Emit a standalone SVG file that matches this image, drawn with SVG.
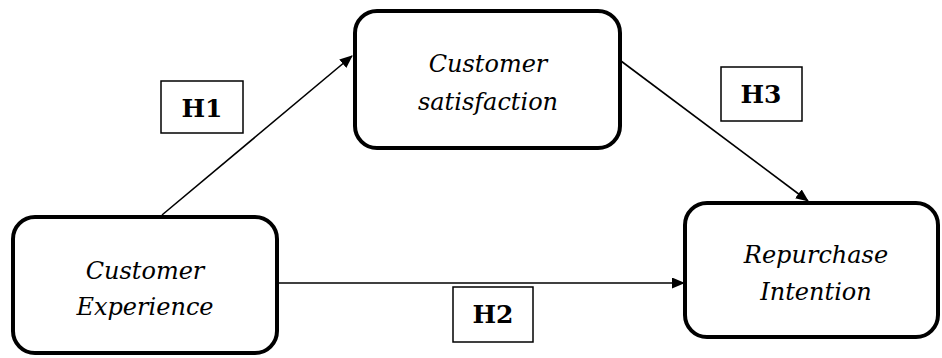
<svg xmlns="http://www.w3.org/2000/svg" width="942" height="358" viewBox="0 0 942 358">
<style>
.node{fill:#fff;stroke:#000;stroke-width:4}
.lbl{font-family:'DejaVu Serif','Liberation Serif',serif;font-style:italic;font-size:24px;text-anchor:middle;fill:#000}
.hbox{fill:#fff;stroke:#000;stroke-width:1.5}
.h{font-family:'DejaVu Serif','Liberation Serif',serif;font-weight:bold;font-size:25px;text-anchor:middle;fill:#000}
.conn{stroke:#000;stroke-width:1.6;fill:none;marker-end:url(#ah)}
</style>
<defs>
<marker id="ah" markerWidth="13" markerHeight="11" refX="12" refY="5.5" orient="auto" markerUnits="userSpaceOnUse" viewBox="0 0 13 11">
<path d="M0,0 L13,5.5 L0,11 z" fill="#000"/>
</marker>
</defs>
<rect width="942" height="358" fill="#fff"/>
<g id="connectors">
<line class="conn" x1="162" y1="215" x2="352" y2="56"/>
<line class="conn" x1="621" y1="61" x2="808" y2="201"/>
<line class="conn" x1="279" y1="283" x2="684" y2="283"/>
</g>
<g id="satisfaction">
<rect class="node" x="355" y="11" width="265" height="137" rx="22"/>
<text class="lbl" x="488" y="72">Customer</text>
<text class="lbl" x="488" y="110">satisfaction</text>
</g>
<g id="experience">
<rect class="node" x="13" y="217" width="264" height="136" rx="22"/>
<text class="lbl" x="145" y="279">Customer</text>
<text class="lbl" x="145" y="315">Experience</text>
</g>
<g id="repurchase">
<rect class="node" x="685" y="203" width="253" height="134" rx="22"/>
<text class="lbl" x="816" y="263">Repurchase</text>
<text class="lbl" x="816" y="300">Intention</text>
</g>
<g id="h1">
<rect class="hbox" x="161" y="81" width="82" height="52"/>
<text class="h" x="202" y="117">H1</text>
</g>
<g id="h2">
<rect class="hbox" x="453" y="287" width="80" height="55"/>
<text class="h" x="493" y="323">H2</text>
</g>
<g id="h3">
<rect class="hbox" x="721" y="67" width="81" height="54"/>
<text class="h" x="761" y="103">H3</text>
</g>
</svg>
